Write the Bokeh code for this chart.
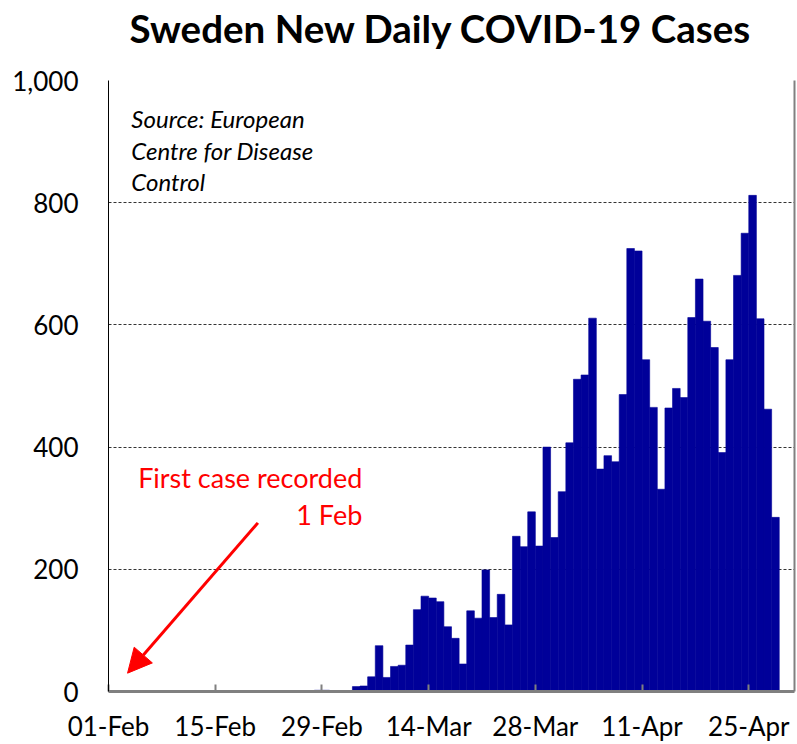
import pandas as pd
from bokeh.plotting import figure
from bokeh.models import (Range1d, FixedTicker, DatetimeTickFormatter, NumeralTickFormatter,
                          LinearAxis, Label, Arrow, NormalHead, ColumnDataSource, Title)
from bokeh.embed import file_html
from bokeh.resources import INLINE

# ---- data -------------------------------------------------------------
first_date = "2020-02-01"
cases = [1,
         0, 0, 0, 0, 0, 0, 0, 0, 0, 0, 0, 0, 0, 0, 0, 0, 0, 0, 0, 0, 0, 0, 0, 0, 0, 0,
         2, 2, 0, 0, 0,
         8, 9, 24, 75, 23, 41, 43, 76, 134, 156, 153, 147, 106, 87, 45, 132, 120, 199, 121, 159, 109,
         254, 237, 294, 238, 400, 252, 327, 407, 511, 518, 611, 364, 386, 376, 486, 725, 721, 543,
         465, 331, 464, 496, 481, 612, 675, 606, 563, 391, 543, 681, 750, 812, 610, 462, 285]
tick_dates = ["2020-02-01", "2020-02-15", "2020-02-29", "2020-03-14",
              "2020-03-28", "2020-04-11", "2020-04-25"]
y_ticks = [0, 200, 400, 600, 800, 1000]
axis_end_date = "2020-05-01"

dates = pd.date_range(first_date, periods=len(cases), freq="D")
DAY_MS = 86400000
base = pd.Timestamp(first_date)


def ms(ts):
    return pd.Timestamp(ts).value / 1e6


def day_ms(d):
    return (base + pd.Timedelta(days=d)).value / 1e6


src = ColumnDataSource(dict(x=[ms(d) + DAY_MS / 2 for d in dates], top=cases))

FONT = "Lato"
p = figure(width=797, height=744, x_axis_type="datetime",
           output_backend="svg", toolbar_location=None,
           x_range=Range1d(ms(first_date), ms(axis_end_date)),
           y_range=Range1d(0, 1000),
           min_border_left=108, min_border_right=3,
           min_border_top=80, min_border_bottom=52)
p.outline_line_color = None
p.background_fill_color = "white"
p.border_fill_color = "white"

p.title.text = "Sweden New Daily COVID-19 Cases"
p.title.align = "left"
p.title.text_font = FONT
p.title.text_font_style = "bold"
p.title.text_font_size = "38.5px"
p.title.text_color = "black"
p.title.offset = 21
p.title.standoff = 2

# empty spacer between the title and the plot frame
p.add_layout(Title(text=" ", text_font_size="10px", standoff=16), "above")

p.vbar(x="x", top="top", width=DAY_MS, bottom=0, source=src,
       fill_color="#000099", line_color="#000099", line_width=0.6)

# grid
p.xgrid.visible = False
p.ygrid.ticker = FixedTicker(ticks=y_ticks)
p.ygrid.grid_line_color = "#333333"
p.ygrid.grid_line_dash = "3 2"
p.ygrid.grid_line_width = 1

# x axis
xa = p.xaxis[0]
xa.ticker = FixedTicker(ticks=[ms(t) for t in tick_dates])
xa.formatter = DatetimeTickFormatter(days="%d-%b", months="%d-%b", years="%d-%b",
                                     hours="%d-%b", minutes="%d-%b", seconds="%d-%b",
                                     milliseconds="%d-%b", minsec="%d-%b", hourmin="%d-%b")
xa.axis_line_color = "#808080"
xa.axis_line_width = 3
xa.major_tick_in = 7
xa.major_tick_out = 0
xa.major_tick_line_color = "#808080"
xa.major_tick_line_width = 2
xa.minor_tick_line_color = None
xa.major_label_text_font = FONT
xa.major_label_text_font_size = "26px"
xa.major_label_text_color = "black"
xa.major_label_standoff = 18

# y axis
ya = p.yaxis[0]
ya.ticker = FixedTicker(ticks=y_ticks)
ya.formatter = NumeralTickFormatter(format="0,0")
ya.axis_line_color = "black"
ya.axis_line_width = 1
ya.major_tick_line_color = None
ya.major_tick_in = 0
ya.major_tick_out = 0
ya.minor_tick_line_color = None
ya.major_label_text_font = FONT
ya.major_label_text_font_size = "26px"
ya.major_label_text_color = "black"
ya.major_label_standoff = 30

# right border
ra = LinearAxis(ticker=FixedTicker(ticks=[]), axis_line_color="#808080", axis_line_width=2,
                major_tick_in=0, major_tick_out=0, minor_tick_line_color=None,
                major_label_text_font_size="0px")
p.add_layout(ra, "right")

# source note
for txt, yy in [("Source: European", 937), ("Centre for Disease", 886), ("Control", 835)]:
    p.add_layout(Label(x=day_ms(3.0), y=yy, text=txt, text_align="left",
                       text_baseline="alphabetic", text_font=FONT,
                       text_font_style="italic", text_font_size="24px",
                       text_color="black"))

# annotation
for txt, yy in [("First case recorded", 351), ("1 Feb", 290)]:
    p.add_layout(Label(x=day_ms(33.3), y=yy, text=txt, text_align="right",
                       text_baseline="alphabetic", text_font=FONT,
                       text_font_size="27px", text_color="#FF0000"))

p.add_layout(Arrow(end=NormalHead(size=24, fill_color="#FF0000", line_color="#FF0000"),
                   x_start=day_ms(19.6), y_start=276, x_end=day_ms(2.5), y_end=30,
                   line_color="#FF0000", line_width=3))

open("out.html", "w").write(file_html(p, INLINE))
